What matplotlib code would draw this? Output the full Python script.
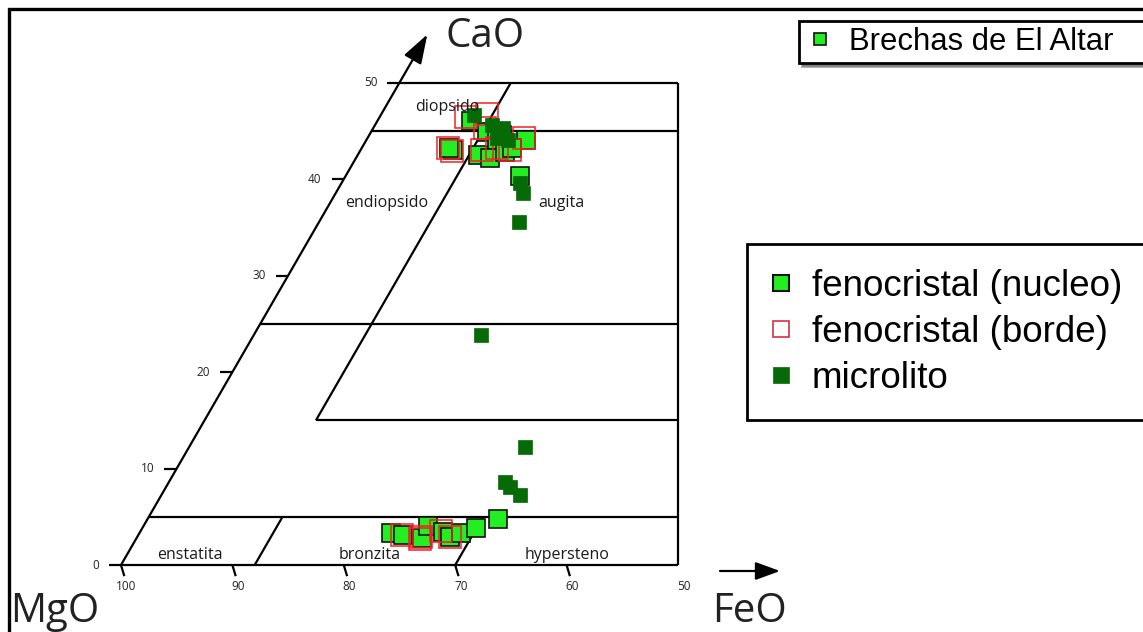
import numpy as np
import matplotlib.pyplot as plt
from matplotlib.lines import Line2D

# pyroxene analyses: Wo (CaO) and Fs (FeO) in mol%, En is the rest
feno_wo = [46.0, 43.0, 43.2, 44.9, 44.1, 44.1, 42.5, 42.2, 42.8, 43.2, 40.3, 44.6,
           3.3, 3.1, 2.8, 4.0, 3.4, 2.9, 3.3, 3.8, 4.8]
feno_fs = [8.4, 8.3, 7.8, 10.4, 11.7, 14.3, 10.8, 12.0, 13.1, 13.5, 15.7, 11.9,
           22.6, 23.8, 25.6, 25.6, 27.2, 28.1, 28.9, 30.0, 31.4]

borde_wo = [46.4, 46.75, 43.2, 42.9, 44.3, 43.0, 43.2, 43.0, 45.3,
            3.1, 2.9, 2.7, 3.5, 2.9]
borde_fs = [7.8, 9.5, 7.75, 8.3, 14.05, 10.9, 12.15, 13.4, 10.0,
            23.7, 25.5, 25.5, 27.0, 28.1]

micro_wo = [46.6, 45.6, 45.3, 44.3, 44.1, 39.6, 38.6, 35.6, 23.8, 12.2, 8.6, 8.1, 7.3]
micro_fs = [8.4, 10.5, 11.6, 11.6, 12.7, 16.0, 16.8, 17.9, 20.4, 30.2, 30.2, 30.9, 32.2]

cao_ticks = [0, 10, 20, 30, 40, 50]
mgo_ticks = [100, 90, 80, 70, 60, 50]

field_names = ['diopsido', 'endiopsido', 'augita', 'enstatita', 'bronzita', 'hypersteno']
field_wo = [47.5, 37.5, 37.5, 1.0, 1.0, 1.0]
field_fs = [5.5, 5.1, 20.8, 5.7, 21.8, 39.5]

S3 = np.sqrt(3) / 2


# ternary (Wo, Fs) -> cartesian
def tern(wo, fs):
    wo = np.asarray(wo, dtype=float)
    fs = np.asarray(fs, dtype=float)
    return fs + wo / 2, wo * S3


fig = plt.figure(figsize=(11.43, 6.32), dpi=100)
ax = fig.add_axes([0, 0, 1, 1])
ax.set_xlim(-10.86, 91.74)
ax.set_ylim(-6.01, 50.72)
ax.axis('off')

lk = dict(color='black', lw=1.6, solid_capstyle='butt')

# outline of the quadrilateral and field boundaries
x, y = tern([0, 0], [-1.1, 50])
ax.plot(x, y, **lk)  # bottom line (Wo = 0), starts with the 0 tick
for wo, fs0 in [(50, 0), (45, 0), (25, 0), (15, 10), (5, 0)]:
    x0, y0 = tern(wo, fs0)
    ax.plot([x0, 50], [y0, y0], **lk)
ax.plot([50, 50], [0, 50 * S3], **lk)
for fs, w0, w1 in [(10, 15, 50), (12, 0, 5), (30, 0, 5)]:
    x, y = tern([w0, w1], [fs, fs])
    ax.plot(x, y, **lk)

# CaO axis with arrow
ax.annotate('', xy=tern(55, 0), xytext=tern(0, 0),
            arrowprops=dict(arrowstyle='-|>,head_length=1.8,head_width=0.6',
                            lw=1.6, color='black', shrinkA=0, shrinkB=0))
for t in cao_ticks:
    x0, y0 = tern(t, 0)
    if t > 0:
        ax.plot([x0 - 1.1, x0], [y0, y0], **lk)
    ax.text(x0 - 2.0, y0, str(t), ha='right', va='center', fontsize=8.5,
            family='Open Sans', color='#222222')

for t in mgo_ticks:
    fs = 100 - t
    if t > 50:
        ax.plot([fs, fs + 0.3], [0, -1.0], **lk)
    ax.text(fs + 0.5, -1.9, str(t), ha='center', va='center', fontsize=8.5,
            family='Open Sans', color='#222222')

for name, wo, fs in zip(field_names, field_wo, field_fs):
    x, y = tern(wo, fs)
    ax.text(x, y, name, ha='center', va='center', fontsize=11.5,
            family='Open Sans', color='#1a1a1a')

# analyses
lime = '#22ee22'
dark = '#066a06'
red = '#ee2222'
x, y = tern(feno_wo, feno_fs)
ax.plot(x, y, 's', ms=13.5, mfc=lime, mec='#111111', mew=1.2, ls='none')
x, y = tern(borde_wo, borde_fs)
ax.plot(x, y, 's', ms=15.5, mfc='none', mec=red, mew=1.1, ls='none')
x, y = tern(micro_wo, micro_fs)
ax.plot(x, y, 's', ms=10, mfc=dark, mec=dark, mew=0.5, ls='none')

# axis names
fig.text(445 / 1143, 1 - 47 / 632, 'CaO', fontsize=29, family='Open Sans',
         ha='left', va='baseline', color='#222222')
fig.text(10 / 1143, 1 - 622 / 632, 'MgO', fontsize=29, family='Open Sans',
         ha='left', va='baseline', color='#222222')
fig.text(712 / 1143, 1 - 622 / 632, 'FeO', fontsize=29, family='Open Sans',
         ha='left', va='baseline', color='#222222')
ax.annotate('', xy=(780 / 1143, 1 - 571 / 632), xytext=(720 / 1143, 1 - 571 / 632),
            xycoords='figure fraction', textcoords='figure fraction',
            arrowprops=dict(arrowstyle='-|>,head_length=1.5,head_width=0.55',
                            lw=1.6, color='black', shrinkA=0, shrinkB=0))

# legends
h1 = [Line2D([], [], marker='s', ls='none', ms=8.5, mfc=lime, mec='#111111', mew=1.2)]
leg1 = ax.legend(h1, ['Brechas de El Altar'], loc='lower left',
                 bbox_to_anchor=(799 / 1143, 1 - 63 / 632, 0.31, 45 / 632),
                 bbox_transform=fig.transFigure, mode='expand', borderaxespad=0,
                 prop={'family': 'Liberation Sans', 'size': 22.3}, fancybox=False,
                 shadow=True, edgecolor='black', framealpha=1, borderpad=0.2,
                 handlelength=0.95, handletextpad=0.45)
leg1.get_frame().set_linewidth(2)
ax.add_artist(leg1)

h2 = [Line2D([], [], marker='s', ls='none', ms=12, mfc=lime, mec='#111111', mew=1.5),
      Line2D([], [], marker='s', ls='none', ms=12, mfc='white', mec='#d83048', mew=1.2),
      Line2D([], [], marker='s', ls='none', ms=12, mfc=dark, mec=dark, mew=0.5)]
leg2 = ax.legend(h2, ['fenocristal (nucleo)', 'fenocristal (borde)', 'microlito'],
                 loc='lower left',
                 bbox_to_anchor=(747 / 1143, 1 - 420 / 632, 0.36, 178 / 632),
                 bbox_transform=fig.transFigure, mode='expand', borderaxespad=0,
                 prop={'family': 'Liberation Sans', 'size': 26.5}, fancybox=False,
                 edgecolor='black', framealpha=1, borderpad=0.66, labelspacing=0.3,
                 handlelength=0.55, handletextpad=0.55)
leg2.get_frame().set_linewidth(2)

# frame round the picture (top and left)
fig.add_artist(Line2D([9 / 1143, 9 / 1143, 1], [0, 1 - 9 / 632, 1 - 9 / 632],
                      color='black', lw=2.4, solid_joinstyle='miter',
                      transform=fig.transFigure))

fig.savefig('out.png', dpi=100)
